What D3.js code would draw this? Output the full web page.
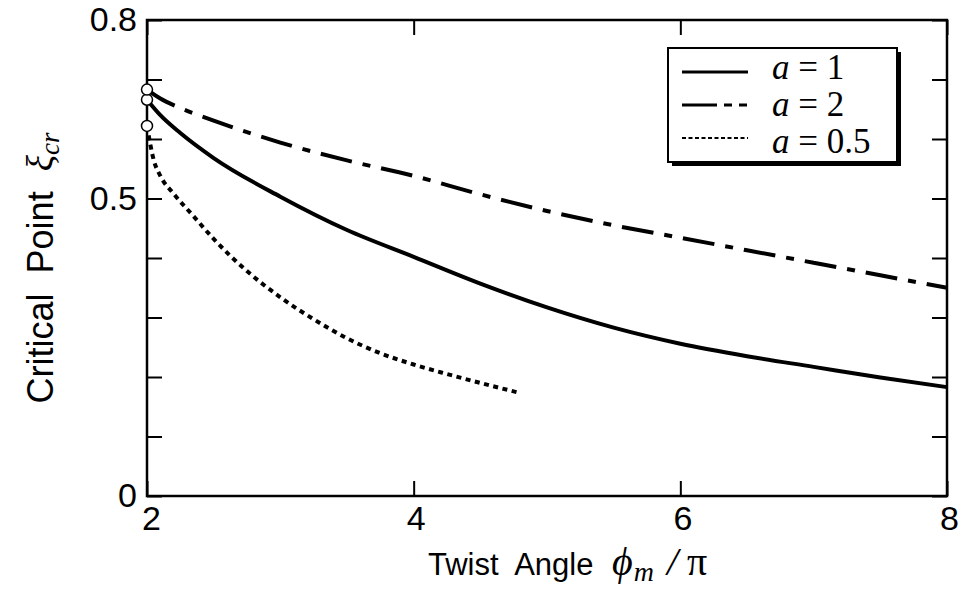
<!DOCTYPE html>
<html>
<head>
<meta charset="utf-8">
<script src="https://cdn.jsdelivr.net/npm/d3@7"></script>
<style>
  body { margin: 0; background: #fff; }
  text { white-space: pre; }
</style>
</head>
<body>
<script>
// data
const phiA1 = [2, 2.1, 2.25, 2.5, 3, 3.5, 4, 4.5, 5, 5.5, 6, 6.5, 7, 7.5, 8];
const xiA1 = [0.666, 0.64, 0.61, 0.568, 0.503, 0.447, 0.402, 0.357, 0.317, 0.283, 0.256, 0.235, 0.217, 0.199, 0.183];

const phiA2 = [2, 2.1, 2.25, 2.5, 3, 3.5, 4, 4.5, 5, 5.5, 6, 6.5, 7, 7.5, 8];
const xiA2 = [0.683, 0.668, 0.652, 0.631, 0.594, 0.564, 0.538, 0.507, 0.479, 0.455, 0.434, 0.413, 0.392, 0.371, 0.35];

const phiA05 = [2, 2.05, 2.1, 2.2, 2.35, 2.5, 2.75, 3, 3.25, 3.5, 3.75, 4, 4.25, 4.5, 4.8];
const xiA05 = [0.622, 0.565, 0.538, 0.508, 0.47, 0.432, 0.378, 0.334, 0.297, 0.265, 0.24, 0.221, 0.205, 0.19, 0.173];

const seriesNames = ["a = 1", "a = 2", "a = 0.5"];
const xTicks = [2, 4, 6, 8];
const yTicks = [0, 0.1, 0.2, 0.3, 0.4, 0.5, 0.6, 0.7, 0.8];
const yTickLabels = [0, 0.5, 0.8];

const width = 962,
  height = 596,
  margin = { left: 147, right: 15, top: 20, bottom: 100 };

const svg = d3
  .select("body")
  .append("svg")
  .attr("width", width)
  .attr("height", height);

const xScale = d3
  .scaleLinear()
  .domain([2, 8])
  .range([margin.left, width - margin.right]);

const yScale = d3
  .scaleLinear()
  .domain([0, 0.8])
  .range([height - margin.bottom, margin.top]);

const sansFont = "'Liberation Sans', Arial, Helvetica, sans-serif";
const serifFont = "'Liberation Serif', 'DejaVu Serif', 'Times New Roman', serif";

// axes, ticks pointing inward
const styleAxis = (g) => {
  g.select(".domain").remove();
  g.selectAll(".tick line").attr("stroke", "#000").attr("stroke-width", 2);
  g.selectAll(".tick text")
    .attr("fill", "#000")
    .style("font-family", sansFont)
    .style("font-size", "34px");
};

svg
  .append("g")
  .attr("transform", "translate(" + margin.left + ",0)")
  .call(
    d3
      .axisLeft(yScale)
      .tickValues(yTicks)
      .tickSize(-15)
      .tickPadding(10)
      .tickFormat((d) => (yTickLabels.includes(d) ? d3.format("")(d) : ""))
  )
  .call(styleAxis);

svg
  .append("g")
  .attr("transform", "translate(" + (width - margin.right) + ",0)")
  .call(d3.axisRight(yScale).tickValues(yTicks).tickSize(-15).tickFormat(""))
  .call(styleAxis);

svg
  .append("g")
  .attr("transform", "translate(0," + (height - margin.bottom) + ")")
  .call(
    d3
      .axisBottom(xScale)
      .tickValues(xTicks)
      .tickSize(-15)
      .tickPadding(10)
      .tickFormat(d3.format("d"))
  )
  .call(styleAxis)
  .selectAll(".tick text")
  .attr("dx", (d) => (d === 2 ? 4 : 2));

svg
  .append("g")
  .attr("transform", "translate(0," + margin.top + ")")
  .call(d3.axisTop(xScale).tickValues(xTicks).tickSize(-15).tickFormat(""))
  .call(styleAxis);

// frame
svg
  .append("rect")
  .attr("x", xScale(2))
  .attr("y", yScale(0.8))
  .attr("width", xScale(8) - xScale(2))
  .attr("height", yScale(0) - yScale(0.8))
  .attr("fill", "none")
  .attr("stroke", "#000")
  .attr("stroke-width", 2.5);

// curves
const line = d3
  .line()
  .x((d) => xScale(d[0]))
  .y((d) => yScale(d[1]))
  .curve(d3.curveMonotoneX);

const curves = [
  { xs: phiA1, ys: xiA1, dash: null },
  { xs: phiA2, ys: xiA2, dash: "32,11,8,11" },
  { xs: phiA05, ys: xiA05, dash: "5,4.5" },
];

curves.forEach((c) => {
  svg
    .append("path")
    .datum(d3.zip(c.xs, c.ys))
    .attr("d", line)
    .attr("fill", "none")
    .attr("stroke", "#000")
    .attr("stroke-width", 4)
    .attr("stroke-dasharray", c.dash);
});

// open circles at the start of each curve
svg
  .selectAll("circle.start")
  .data(curves)
  .enter()
  .append("circle")
  .attr("class", "start")
  .attr("cx", (c) => xScale(c.xs[0]))
  .attr("cy", (c) => yScale(c.ys[0]))
  .attr("r", 5.5)
  .attr("fill", "#fff")
  .attr("stroke", "#000")
  .attr("stroke-width", 1.5);

// legend
const legend = svg.append("g").attr("transform", "translate(668,48)");
legend
  .append("rect")
  .attr("x", 4)
  .attr("y", 4)
  .attr("width", 229)
  .attr("height", 114)
  .attr("fill", "#000");
legend
  .append("rect")
  .attr("width", 229)
  .attr("height", 114)
  .attr("fill", "#fff")
  .attr("stroke", "#000")
  .attr("stroke-width", 2);

const legendDash = [null, "35,7,8,7,8,100", "4,2.5"];
const legendLineY = [24, 57, 90];
const legendTextY = [31, 68, 105];
seriesNames.forEach((name, i) => {
  legend
    .append("line")
    .attr("x1", 14)
    .attr("x2", 80)
    .attr("y1", legendLineY[i])
    .attr("y2", legendLineY[i])
    .attr("stroke", "#000")
    .attr("stroke-width", i === 2 ? 2.2 : 3)
    .attr("stroke-dasharray", legendDash[i]);
  const t = legend
    .append("text")
    .attr("x", 104)
    .attr("y", legendTextY[i])
    .style("font-family", serifFont)
    .style("font-size", "35px");
  t.append("tspan").style("font-style", "italic").text("a");
  t.append("tspan").text(name.slice(1));
});

// axis titles
const xTitle = svg
  .append("text")
  .attr("x", 428)
  .attr("y", 575)
  .style("font-family", sansFont)
  .style("font-size", "31px");
xTitle.append("tspan").text("Twist  Angle ");
xTitle
  .append("tspan")
  .attr("dx", 10)
  .style("font-family", serifFont)
  .style("font-style", "italic")
  .style("font-size", "40px")
  .text("ϕ");
xTitle
  .append("tspan")
  .attr("dy", 6)
  .attr("dx", 1)
  .style("font-family", serifFont)
  .style("font-style", "italic")
  .style("font-size", "28px")
  .text("m");
xTitle
  .append("tspan")
  .attr("dy", -6)
  .attr("dx", 13)
  .style("font-family", serifFont)
  .style("font-style", "italic")
  .style("font-size", "40px")
  .text("/");
xTitle
  .append("tspan")
  .attr("dx", 9)
  .style("font-family", serifFont)
  .style("font-size", "40px")
  .text("π");

const yTitle = svg
  .append("text")
  .attr("transform", "translate(53,268) rotate(-90)")
  .attr("text-anchor", "middle")
  .style("font-family", sansFont)
  .style("font-size", "36px");
yTitle.append("tspan").text("Critical  Point  ");
yTitle
  .append("tspan")
  .style("font-family", serifFont)
  .style("font-style", "italic")
  .style("font-size", "38px")
  .text("ξ");
yTitle
  .append("tspan")
  .attr("dy", 6)
  .style("font-family", serifFont)
  .style("font-style", "italic")
  .style("font-size", "27px")
  .text("cr");
</script>
</body>
</html>
